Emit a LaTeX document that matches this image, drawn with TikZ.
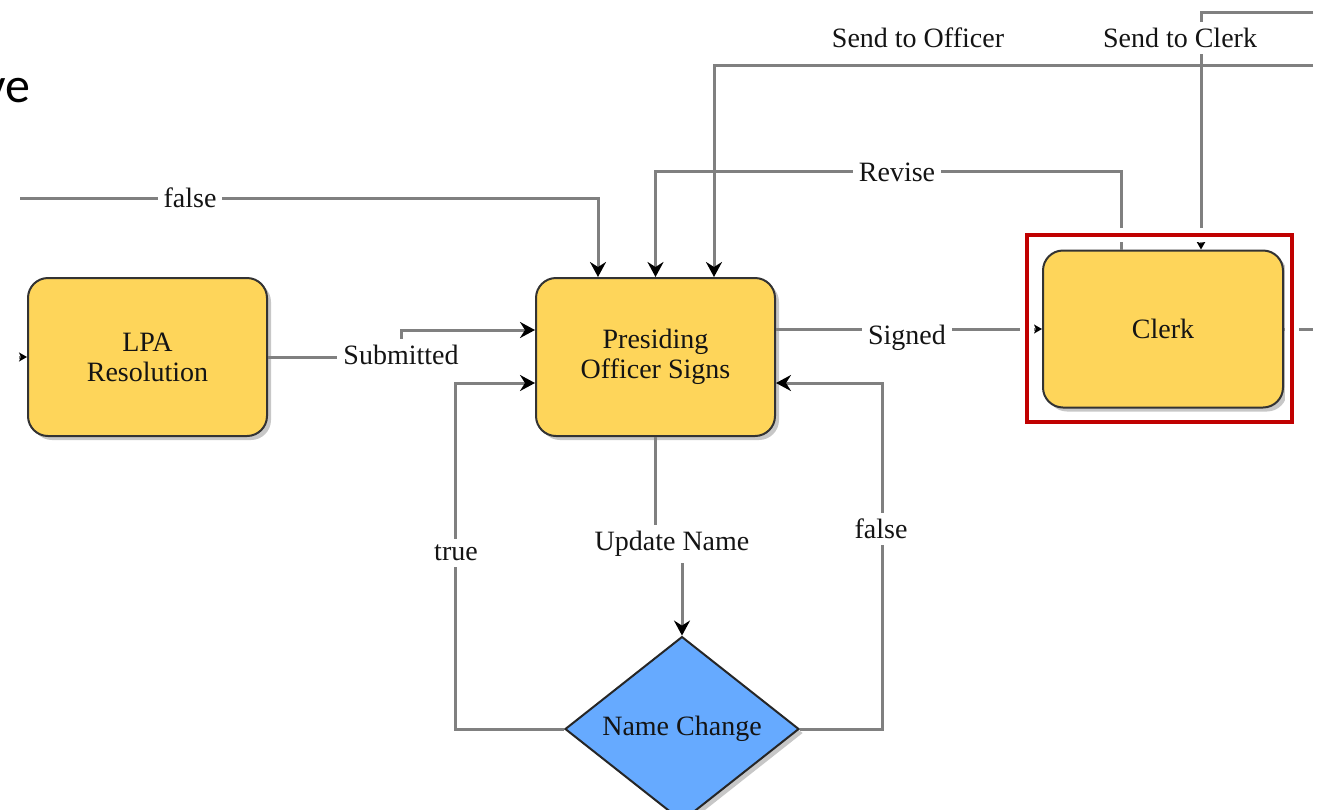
\documentclass[tikz,border=0pt]{standalone}
\usepackage{fontspec}
\setmainfont{Liberation Serif}
\newfontfamily\carlitofont{Carlito}
\usetikzlibrary{arrows.meta,shapes.geometric,shadows}
\definecolor{boxfill}{RGB}{254,213,90}
\definecolor{dfill}{RGB}{102,170,255}
\definecolor{conncol}{RGB}{128,128,128}
\definecolor{framered}{RGB}{192,0,0}
\definecolor{txt}{RGB}{20,20,20}
\begin{document}
\begin{tikzpicture}[x=1pt,y=-1pt,
  font=\fontsize{28}{30}\selectfont,
  procbox/.style={draw=black!80, line width=2pt, fill=boxfill, rounded corners=20pt,
    minimum width=239pt, minimum height=158pt, align=center, text=txt,
    drop shadow={shadow xshift=4pt, shadow yshift=-4pt, opacity=0.22, fill=black}},
  decbox/.style={diamond, draw=black!85, line width=2pt, fill=dfill,
    minimum width=234pt, minimum height=154pt, inner sep=0pt, text=txt,
    drop shadow={shadow xshift=4pt, shadow yshift=-4pt, opacity=0.22, fill=black}},
  conn/.style={draw=conncol, line width=3pt},
  bigtip/.style={-{Stealth[length=15pt,width=16pt,inset=5pt,color=black]}},
  smalltip/.style={-{Stealth[length=8pt,width=9pt,inset=2pt,color=black]}},
  lbl/.style={fill=white, inner sep=6pt, text=txt},
  framebox/.style={draw=framered, line width=4pt, minimum width=265pt, minimum height=187pt,
    inner sep=0pt, preaction={draw=white, line width=14pt}},
]
\useasboundingbox (0,0) rectangle (1327,809);
\fill[white] (0,0) rectangle (1327,809);

% nodes
\node[procbox] (lpa) at (147.5,357) {LPA\\Resolution};
\node[procbox] (pres) at (655.5,357) {Presiding\\Officer Signs};
\node[procbox, minimum width=240pt, minimum height=157pt] (clerk) at (1163,329) {Clerk};
\node[decbox] (nc) at (682,729) {Name Change};

\node[anchor=base east, inner sep=0pt, font=\carlitofont\fontsize{50}{60}\selectfont, text=black] (ve) at (31,102) {ve};

% free ends
\coordinate (fstart) at (20,198);
\coordinate (stoStart) at (1313,65);
\coordinate (stcStart) at (1313,12);
\coordinate (lpaIn) at (19,357);
\coordinate (clerkOut) at (1313,329);

% connectors
\draw[conn,bigtip] (fstart) -| ([xshift=-57.5pt]pres.north);
\draw[conn,bigtip] ([xshift=-42pt]clerk.north) -- ++(0,-78) -| (pres.north);
\draw[conn,bigtip] (stoStart) -| ([xshift=58.5pt]pres.north);
\draw[conn,smalltip] (stcStart) -| ([xshift=38pt]clerk.north);
\draw[conn,smalltip] ([yshift=28pt]pres.east) -- (clerk.west);
\draw[conn,bigtip] (lpa.east) -- ++(133,0) |- ([yshift=27pt]pres.west);
\draw[conn,bigtip] (pres.south) -- ++(0,107) -| (nc.north);
\draw[conn,bigtip] (nc.west) -- ++(-109,0) |- ([yshift=-26pt]pres.west);
\draw[conn,bigtip] (nc.east) -- ++(82,0) |- ([yshift=-26pt]pres.east);
\draw[conn,smalltip] (lpaIn) -- (lpa.west);
\draw[conn] (clerk.east) -- (clerkOut);

% highlight frame
\node[framebox] (frame) at (1159.5,328.5) {};

% labels
\node[lbl] (lFalseTop) at (190,198) {false};
\node[lbl] (lRevise) at (897,172) {Revise};
\node[lbl] (lSto) at (918,38) {Send to Officer};
\node[lbl] (lStc) at (1180,38) {Send to Clerk};
\node[lbl] (lSub) at (401,355) {Submitted};
\node[lbl] (lSigned) at (907,338) {Signed};
\node[lbl] (lUpd) at (672,544) {Update Name};
\node[lbl] (lTrue) at (456,553) {true};
\node[lbl] (lFalse) at (881,529) {false};
\end{tikzpicture}
\end{document}
